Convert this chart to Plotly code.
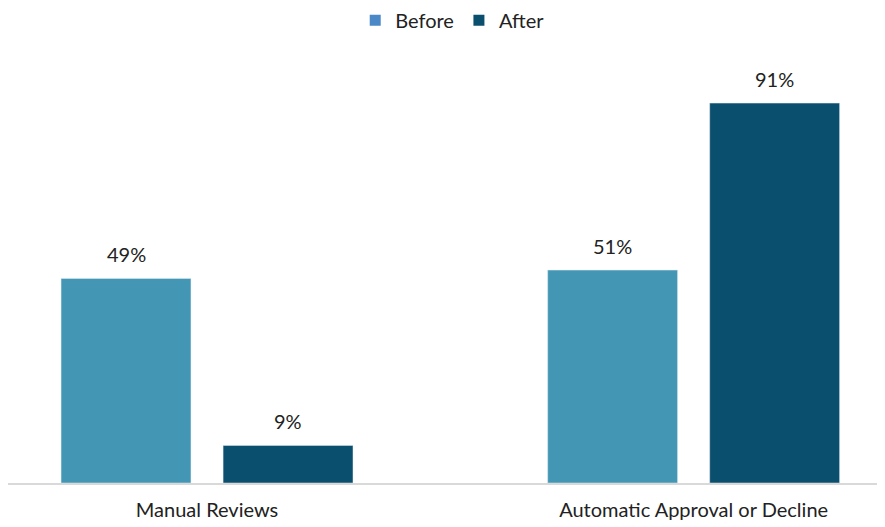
import plotly.graph_objects as go

categories = ["Manual Reviews", "Automatic Approval or Decline"]
before_vals = [49, 51]
after_vals = [9, 91]
series_names = ["Before", "After"]

bar_colors = ["#4397B5", "#0B4F6E"]
legend_colors = ["#4A88C7", "#0B4F6E"]
bar_width = 0.267
offsets = [-0.3, 0.033]
label_shift_px = [-81, 81]

fig = go.Figure()
for name, vals, col, off in zip(series_names, [before_vals, after_vals], bar_colors, offsets):
    fig.add_trace(go.Bar(
        x=categories, y=vals, name=name, marker_color=col,
        width=bar_width, offset=off, showlegend=False,
    ))
for name, col in zip(series_names, legend_colors):
    fig.add_trace(go.Scatter(
        x=[None], y=[None], mode="markers", name=name,
        marker=dict(symbol="square", size=11, color=col),
    ))

for vals, xs in zip([before_vals, after_vals], label_shift_px):
    for c, v in zip(categories, vals):
        fig.add_annotation(x=c, y=v, xref="x", yref="y", text=f"{v}%",
                           showarrow=False, yanchor="bottom", yshift=10, xshift=xs,
                           font=dict(size=20, color="#222222", family="Lato"))

fig.update_layout(
    width=885, height=527,
    margin=dict(l=0, r=13, t=55, b=52, autoexpand=False),
    paper_bgcolor="white", plot_bgcolor="white",
    barmode="overlay",
    font=dict(family="Lato", size=20, color="#222222"),
    legend=dict(orientation="h", x=0.51, xanchor="center", y=1.102, yanchor="middle",
                yref="paper", font=dict(size=20), itemwidth=30,
                traceorder="normal"),
    xaxis=dict(range=[-0.409, 1.383], showline=True, linecolor="#d9d9d9", linewidth=2,
               ticks="outside", ticklen=8, tickcolor="rgba(0,0,0,0)",
               tickfont=dict(size=20), showgrid=False, automargin=False),
    yaxis=dict(range=[0, 100.6], visible=False, showgrid=False),
)
fig.write_html("out.html")
